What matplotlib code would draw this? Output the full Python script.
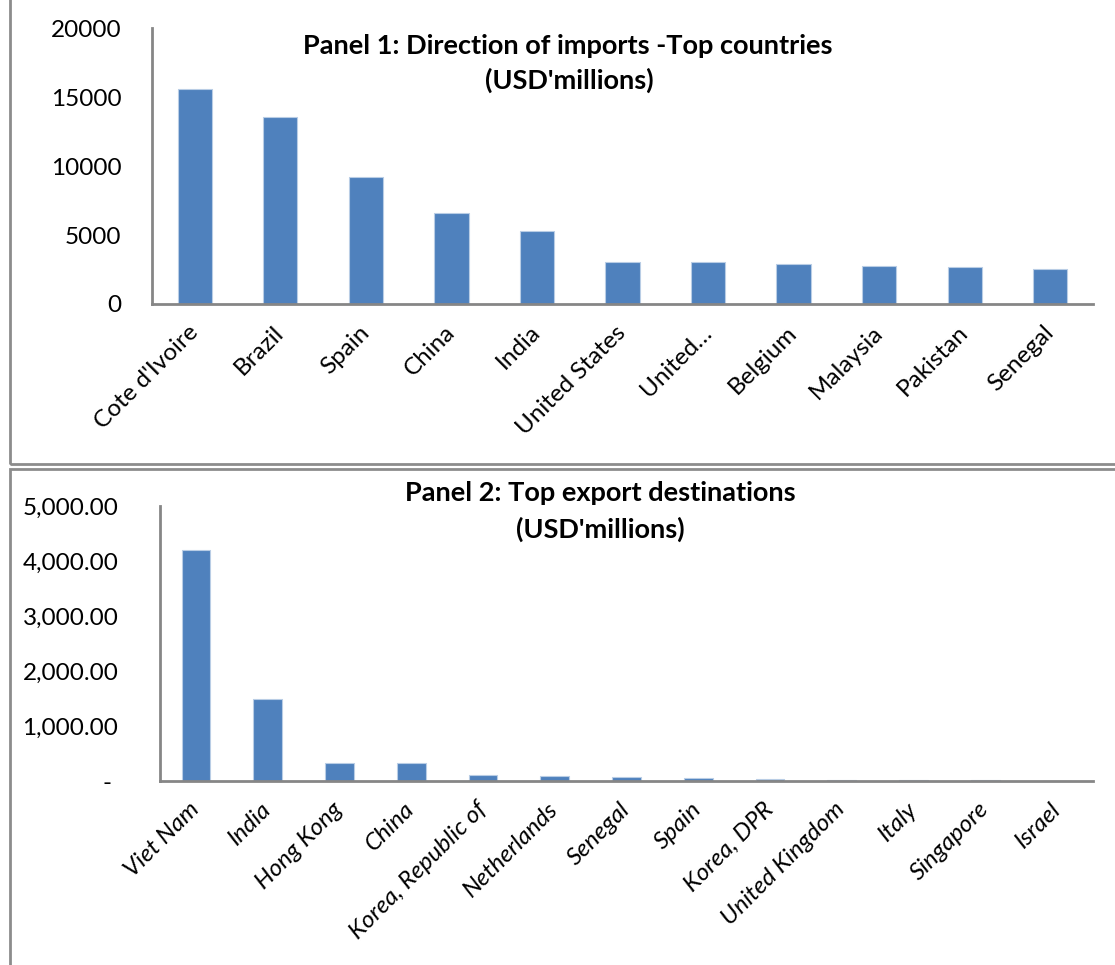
import matplotlib
matplotlib.use("Agg")
import matplotlib.pyplot as plt
from matplotlib.patches import Rectangle
from matplotlib.ticker import FuncFormatter

# Panel 1: direction of imports (USD millions)
import_countries = ["Cote d'Ivoire", "Brazil", "Spain", "China", "India", "United States",
                    "United…", "Belgium", "Malaysia", "Pakistan", "Senegal"]
import_values = [15600, 13590, 9190, 6580, 5270, 3070, 3050, 2900, 2740, 2710, 2540]

# Panel 2: top export destinations (USD millions)
export_countries = ["Viet Nam", "India", "Hong Kong", "China", "Korea, Republic of",
                    "Netherlands", "Senegal", "Spain", "Korea, DPR", "United Kingdom",
                    "Italy", "Singapore", "Israel"]
export_values = [4195, 1490, 330, 320, 105, 88, 80, 58, 40, 20, 10, 10, 8]

bar_color = "#4f81bd"
edge_color = "#b9cde5"
axis_gray = "#868686"

plt.rcParams["font.family"] = ["Lato", "DejaVu Sans"]

W, H = 1115, 965
fig = plt.figure(figsize=(W / 100, H / 100), dpi=100)


def fx(px):
    return px / W


def fy(py):
    return 1 - py / H


# panel frames
fig.patches.append(Rectangle((fx(10), fy(464)), fx(1200), 1, transform=fig.transFigure,
                             fill=False, edgecolor="#8c8c8c", linewidth=2, zorder=0))
fig.patches.append(Rectangle((fx(10), fy(1200)), fx(1200), fy(469) - fy(1200),
                             transform=fig.transFigure, fill=False,
                             edgecolor="#8c8c8c", linewidth=2, zorder=0))


def style_axes(ax):
    for s in ["top", "right"]:
        ax.spines[s].set_visible(False)
    for s in ["left", "bottom"]:
        ax.spines[s].set_color(axis_gray)
        ax.spines[s].set_linewidth(2)
    ax.tick_params(length=0, labelsize=17.5)
    ax.set_facecolor("none")


# ---- panel 1
ax1 = fig.add_axes([fx(152), fy(304), fx(1093 - 152), (304 - 28.3) / H])
x1 = range(len(import_countries))
ax1.bar(x1, import_values, width=0.4, color=bar_color, edgecolor=edge_color, linewidth=0.8)
ax1.set_xlim(-0.5, len(import_countries) - 0.5)
ax1.set_ylim(0, 20000)
ax1.set_yticks([0, 5000, 10000, 15000, 20000])
ax1.set_xticks(list(x1))
ax1.set_xticklabels(import_countries, rotation=45, ha="right", va="center",
                    rotation_mode="anchor", fontsize=18.5)
ax1.tick_params(axis="x", pad=18)
ax1.tick_params(axis="y", pad=22)
style_axes(ax1)

fig.text(fx(568), fy(46), "Panel 1: Direction of imports -Top countries", ha="center",
         va="center", fontsize=19.5, fontweight="bold")
fig.text(fx(569), fy(80), "(USD'millions)", ha="center", va="center",
         fontsize=19.5, fontweight="bold")

# ---- panel 2
ax2 = fig.add_axes([fx(160), fy(781), fx(1093 - 160), (781 - 506) / H])
x2 = range(len(export_countries))
ax2.bar(x2, export_values, width=0.4, color=bar_color, edgecolor=edge_color, linewidth=0.8)
ax2.set_xlim(-0.5, len(export_countries) - 0.5)
ax2.set_ylim(0, 5000)
ax2.set_yticks([0, 1000, 2000, 3000, 4000, 5000])
ax2.yaxis.set_major_formatter(FuncFormatter(lambda v, p: "- " if v == 0 else f"{v:,.2f}"))
ax2.set_xticks(list(x2))
ax2.set_xticklabels(export_countries, rotation=45, ha="right", va="center",
                    rotation_mode="anchor", fontsize=18.5, style="italic")
ax2.tick_params(axis="x", pad=18)
ax2.tick_params(axis="y", pad=30)
style_axes(ax2)

fig.text(fx(600), fy(493), "Panel 2: Top export destinations", ha="center",
         va="center", fontsize=19.5, fontweight="bold")
fig.text(fx(600), fy(529), "(USD'millions)", ha="center", va="center",
         fontsize=19.5, fontweight="bold")

fig.savefig("out.png", dpi=100)
